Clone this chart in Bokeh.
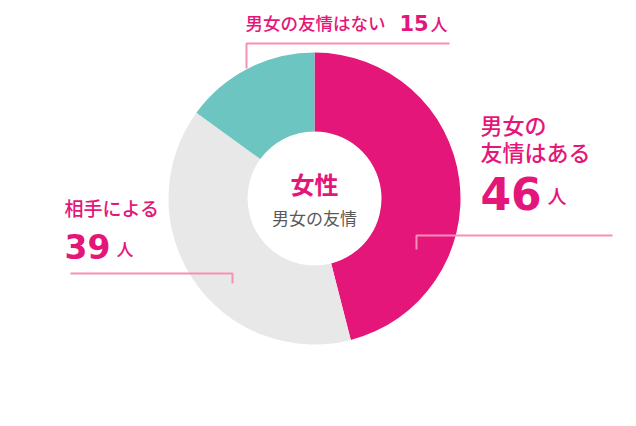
import math
from bokeh.plotting import figure
from bokeh.models import Range1d
from bokeh.core.properties import value
from bokeh.embed import file_html
from bokeh.resources import INLINE

# ---- data ----
categories = ["男女の友情はある", "相手による", "男女の友情はない"]
values = [46, 39, 15]
colors = ["#E5167A", "#E8E8E8", "#6CC5C0"]
unit = "人"
center_title = "女性"
center_subtitle = "男女の友情"
label_lines = [["男女の", "友情はある"], ["相手による"], ["男女の友情はない"]]

PINK = "#E5167A"
LINE = "#F590B8"
JP = value("Noto Sans CJK JP Medium, Noto Sans CJK JP")
JPR = value("Noto Sans CJK JP")
NUM = value("DejaVu Sans")

W, H = 620, 410
p = figure(width=W, height=H, output_backend="svg", toolbar_location=None,
           x_range=Range1d(0, W), y_range=Range1d(426 - H, 426),
           min_border=0, outline_line_color=None)
p.axis.visible = False
p.grid.visible = False
p.background_fill_color = "white"
p.border_fill_color = "white"


def Y(py):
    return 426 - py


cx, cy = 314, Y(198)
total = sum(values)
# clockwise from 12 o'clock
start = math.pi / 2
starts, ends = [], []
for v in values:
    span = 2 * math.pi * v / total
    ends.append(start)
    starts.append(start - span)
    start -= span

p.annular_wedge(x=[cx] * len(values), y=[cy] * len(values), inner_radius=67, outer_radius=146,
                start_angle=starts, end_angle=ends, direction="anticlock",
                fill_color=colors, line_color=None)

# leader lines
p.line([246, 246, 449], [Y(68), Y(43), Y(43)], line_color=LINE, line_width=2)
p.line([416, 416, 612], [Y(249), Y(235), Y(235)], line_color=LINE, line_width=2)
p.line([70, 232, 232], [Y(273), Y(273), Y(283)], line_color=LINE, line_width=2)


def txt(x, y, s, size, color=PINK, font=JP, style="normal", align="left"):
    p.text(x=[x], y=[Y(y)], text=[s], text_font=font, text_font_size=f"{size}px",
           text_color=color, text_font_style=style, text_align=align,
           text_baseline="middle")


# right label (46)
txt(480, 123, label_lines[0][0], 22)
txt(480, 150, label_lines[0][1], 22)
txt(480, 193, str(values[0]), 44, font=NUM, style="bold")
txt(547, 195, unit, 19)

# left label (39)
txt(64, 207, label_lines[1][0], 19)
txt(64, 246, str(values[1]), 33, font=NUM, style="bold")
txt(116, 248, unit, 17)

# top label (15)
txt(245, 22, label_lines[2][0], 17.5)
txt(399, 22, str(values[2]), 21, font=NUM, style="bold")
txt(430, 23, unit, 17)

# centre
txt(cx, 183, center_title, 24, font=JPR, style="bold", align="center")
txt(cx, 217, center_subtitle, 17, color="#595959", font=JPR, align="center")

open("out.html", "w").write(file_html(p, INLINE))
